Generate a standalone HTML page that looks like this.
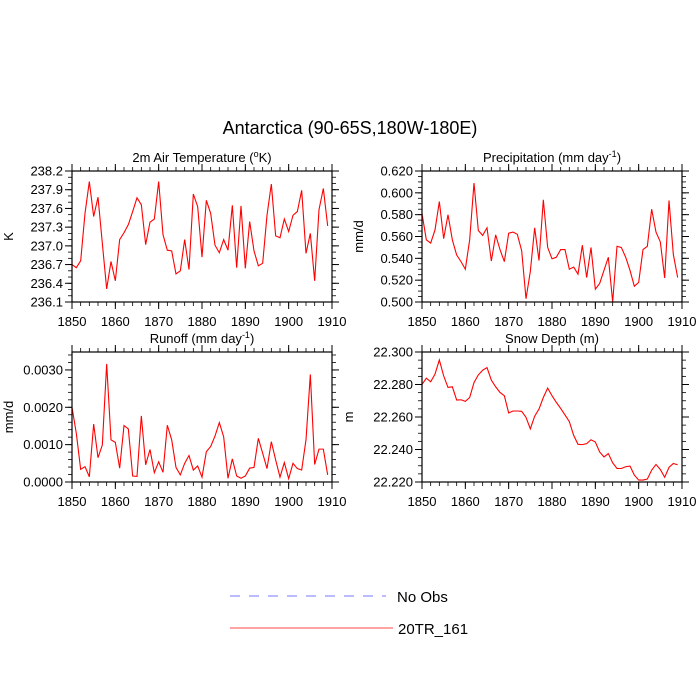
<!DOCTYPE html>
<html><head><meta charset="utf-8"><style>
html,body{margin:0;padding:0;background:#fff;width:700px;height:700px;overflow:hidden}
svg text{font-family:"Liberation Sans",sans-serif;fill:#000}
</style></head><body>
<svg id="s" width="700" height="700" xmlns="http://www.w3.org/2000/svg">
<text x="350" y="134" font-size="18" text-anchor="middle">Antarctica (90-65S,180W-180E)</text>
<g>
<line x1="230" y1="596" x2="386" y2="596" stroke="#7777ff" stroke-width="1" stroke-dasharray="10,9"/>
<text x="397" y="602" font-size="15">No Obs</text>
<line x1="230" y1="628" x2="393" y2="628" stroke="#ff4444" stroke-width="1"/>
<text x="398" y="634" font-size="15">20TR_161</text>
</g>
</svg>
<script>
const years=[];for(let y=1850;y<=1909;y++)years.push(y);
const xTicks=[1850,1860,1870,1880,1890,1900,1910];
const tempVals=[236.70,236.65,236.76,237.52,238.03,237.47,237.78,237.04,236.31,236.75,236.44,237.10,237.21,237.34,237.55,237.77,237.66,237.02,237.38,237.43,238.03,237.18,236.93,236.92,236.55,236.60,237.10,236.62,237.83,237.63,236.82,237.73,237.52,237.01,236.89,237.10,236.93,237.65,236.65,237.64,236.64,237.39,236.92,236.68,236.72,237.49,237.99,237.16,237.13,237.43,237.23,237.49,237.55,237.89,236.88,237.20,236.44,237.58,237.92,237.32];
const precipVals=[0.581,0.557,0.554,0.566,0.592,0.558,0.580,0.557,0.543,0.537,0.530,0.557,0.609,0.5655,0.561,0.568,0.5375,0.5615,0.548,0.537,0.563,0.564,0.562,0.547,0.503,0.528,0.568,0.538,0.5936,0.550,0.5396,0.541,0.548,0.548,0.530,0.532,0.5255,0.552,0.5224,0.550,0.5117,0.517,0.529,0.541,0.500,0.551,0.550,0.541,0.529,0.5144,0.518,0.548,0.551,0.585,0.564,0.555,0.522,0.593,0.5436,0.5224];
const runoffVals=[0.00200,0.00130,0.00034,0.00041,0.00014,0.00155,0.00065,0.00099,0.00316,0.00113,0.00106,0.00037,0.00151,0.00142,0.00016,0.00015,0.00177,0.00046,0.00087,0.00025,0.00054,0.00026,0.00152,0.00113,0.00039,0.00019,0.00050,0.00071,0.00032,0.00043,0.00013,0.00081,0.00095,0.00123,0.00159,0.00121,0.00010,0.00062,0.00016,0.00010,0.00016,0.00037,0.00039,0.00117,0.00077,0.00036,0.00108,0.00059,0.00013,0.00052,0.00009,0.00050,0.00036,0.00032,0.00113,0.00288,0.00047,0.00088,0.00088,0.00019];
const snowVals=[22.2800,22.2839,22.2817,22.2864,22.2951,22.2853,22.2782,22.2786,22.2704,22.2706,22.2696,22.2720,22.2812,22.2859,22.2888,22.2904,22.2827,22.2786,22.2751,22.2731,22.2625,22.2637,22.2637,22.2635,22.2598,22.2527,22.2605,22.2649,22.2720,22.2778,22.2731,22.2690,22.2653,22.2613,22.2572,22.2487,22.2432,22.2430,22.2436,22.2460,22.2446,22.2385,22.2354,22.2375,22.2318,22.2283,22.2283,22.2294,22.2298,22.2243,22.2212,22.2212,22.2218,22.2273,22.2308,22.2277,22.2229,22.2290,22.2314,22.2306];
const tempTicks=[236.1,236.4,236.7,237.0,237.3,237.6,237.9,238.2];
const precipTicks=[0.50,0.52,0.54,0.56,0.58,0.60,0.62];
const runoffTicks=[0,0.001,0.002,0.003];
const snowTicks=[22.22,22.24,22.26,22.28,22.30];

const svg=document.getElementById('s');
const NS='http://www.w3.org/2000/svg';
function mk(tag,attrs,parent){const e=document.createElementNS(NS,tag);for(const k in attrs)e.setAttribute(k,attrs[k]);parent.appendChild(e);return e;}

function panel(p){
  const g=mk('g',{},svg);
  
  
  const X=v=>p.x0+(v-1850)/60*(p.x1-p.x0);
  const Y=v=>p.y1-(v-p.ymin)/(p.ymax-p.ymin)*(p.y1-p.y0);
  // minor y ticks
  for(let v=p.ymin;v<=p.ymax+1e-9;v+=p.minor){
    const y=Y(v);
    mk('line',{x1:p.x0-4,x2:p.x0,y1:y,y2:y,stroke:'#000','stroke-width':0.8},g);
    mk('line',{x1:p.x1,x2:p.x1+4,y1:y,y2:y,stroke:'#000','stroke-width':0.8},g);
  }
  for(let v=1850;v<=1910;v+=2){
    const x=X(v);
    mk('line',{x1:x,x2:x,y1:p.y1,y2:p.y1+4,stroke:'#000','stroke-width':0.8},g);
    mk('line',{x1:x,x2:x,y1:p.y0-4,y2:p.y0,stroke:'#000','stroke-width':0.8},g);
  }
  p.yticks.forEach(v=>{
    const y=Y(v);
    mk('line',{x1:p.x0-7,x2:p.x0,y1:y,y2:y,stroke:'#000','stroke-width':1},g);
    mk('line',{x1:p.x1,x2:p.x1+7,y1:y,y2:y,stroke:'#000','stroke-width':1},g);
    const t=mk('text',{x:p.x0-9,y:y+4.5,'font-size':13,'text-anchor':'end'},g);
    t.textContent=p.fmt(v);
    
    
  });
  xTicks.forEach(v=>{
    const x=X(v);
    mk('line',{x1:x,x2:x,y1:p.y1,y2:p.y1+7,stroke:'#000','stroke-width':1},g);
    mk('line',{x1:x,x2:x,y1:p.y0-7,y2:p.y0,stroke:'#000','stroke-width':1},g);
    const t=mk('text',{x:x,y:p.y1+24,'font-size':13,'text-anchor':'middle'},g);
    t.textContent=v;
    
    
  });
  const pts=p.vals.map((v,i)=>X(years[i]).toFixed(2)+','+Y(v).toFixed(2)).join(' ');
  const line=mk('polyline',{points:pts,fill:'none',stroke:'#ff0000','stroke-width':1.1},g);
  
  
  mk('rect',{x:p.x0,y:p.y0,width:p.x1-p.x0,height:p.y1-p.y0,fill:'none',stroke:'#000','stroke-width':1.2},g);
  const tt=mk('text',{x:(p.x0+p.x1)/2,y:p.y0-9,'font-size':13,'text-anchor':'middle'},g);
  tt.innerHTML=p.title;
  
  
  const yl=mk('text',{x:0,y:0,'font-size':13,'text-anchor':'middle',transform:`translate(${p.ylx},${(p.y0+p.y1)/2}) rotate(-90)`},g);
  yl.textContent=p.ylabel;
  
  
}
panel({name:'temperature',x0:72,x1:332,y0:171,y1:302,ymin:236.1,ymax:238.2,minor:0.1,yticks:tempTicks,fmt:v=>v.toFixed(1),vals:tempVals,title:'2m Air Temperature (<tspan font-size="9" dy="-5">o</tspan><tspan dy="5">K)</tspan>',ylabel:'K',ylx:13});
panel({name:'precipitation',x0:422,x1:682,y0:171,y1:302,ymin:0.5,ymax:0.62,minor:0.005,yticks:precipTicks,fmt:v=>v.toFixed(3),vals:precipVals,title:'Precipitation (mm day<tspan font-size="9" dy="-5">-1</tspan><tspan dy="5">)</tspan>',ylabel:'mm/d',ylx:363});
panel({name:'runoff',x0:72,x1:332,y0:352,y1:482,ymin:0,ymax:0.00348,minor:0.0002,yticks:runoffTicks,fmt:v=>v.toFixed(4),vals:runoffVals,title:'Runoff (mm day<tspan font-size="9" dy="-5">-1</tspan><tspan dy="5">)</tspan>',ylabel:'mm/d',ylx:13});
panel({name:'snow-depth',x0:422,x1:682,y0:352,y1:482,ymin:22.22,ymax:22.30,minor:0.005,yticks:snowTicks,fmt:v=>v.toFixed(3),vals:snowVals,title:'Snow Depth (m)',ylabel:'m',ylx:353});
</script>
</body></html>
